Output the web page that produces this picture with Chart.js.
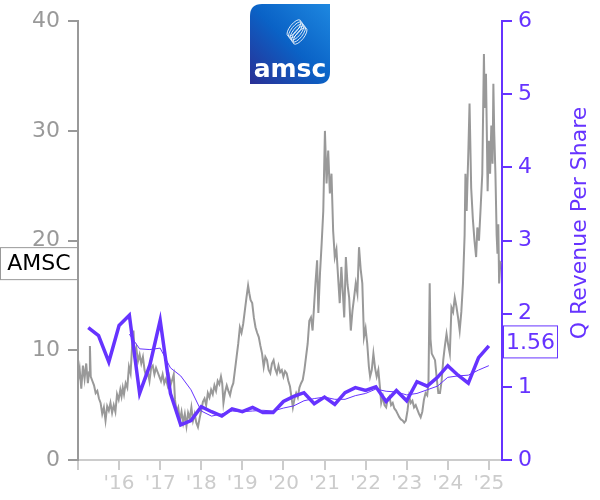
<!DOCTYPE html>
<html>
<head>
<meta charset="utf-8">
<script src="https://cdn.jsdelivr.net/npm/chart.js@4.4.0/dist/chart.umd.min.js"></script>
<style>
  body { margin: 0; background: #fff; }
</style>
</head>
<body>
<canvas id="chart" width="600" height="500"></canvas>
<script>
const ticker = 'AMSC';
const revTitle = 'Q Revenue Per Share';

const yearTicks = [2015, 2016, 2017, 2018, 2019, 2020, 2021, 2022, 2023, 2024, 2025];
const yearLabels = ['', "'16", "'17", "'18", "'19", "'20", "'21", "'22", "'23", "'24", "'25"];

// share price (left axis), decimal years
const priceDates = [
  2015.00, 2015.04, 2015.08, 2015.12, 2015.16, 2015.20, 2015.24, 2015.27, 2015.29, 2015.31,
  2015.35, 2015.39, 2015.43, 2015.47, 2015.51, 2015.55, 2015.59, 2015.63, 2015.67, 2015.71,
  2015.75, 2015.79, 2015.83, 2015.87, 2015.91, 2015.95, 2015.99, 2016.03, 2016.06, 2016.09,
  2016.12, 2016.16, 2016.20, 2016.24, 2016.28, 2016.32, 2016.35, 2016.38, 2016.42, 2016.46,
  2016.50, 2016.54, 2016.58, 2016.62, 2016.66, 2016.70, 2016.74, 2016.78, 2016.82, 2016.86,
  2016.90, 2016.94, 2016.98, 2017.02, 2017.06, 2017.10, 2017.14, 2017.18, 2017.22, 2017.26,
  2017.30, 2017.33, 2017.36, 2017.40, 2017.44, 2017.48, 2017.52, 2017.56, 2017.60, 2017.64,
  2017.68, 2017.72, 2017.76, 2017.80, 2017.84, 2017.88, 2017.92, 2017.96, 2018.00, 2018.04,
  2018.08, 2018.12, 2018.16, 2018.20, 2018.24, 2018.28, 2018.32, 2018.36, 2018.40, 2018.44,
  2018.48, 2018.51, 2018.54, 2018.58, 2018.62, 2018.66, 2018.70, 2018.74, 2018.78, 2018.82,
  2018.86, 2018.90, 2018.94, 2018.98, 2019.02, 2019.06, 2019.10, 2019.14, 2019.17, 2019.20,
  2019.24, 2019.28, 2019.32, 2019.36, 2019.40, 2019.44, 2019.48, 2019.52, 2019.56, 2019.60,
  2019.64, 2019.68, 2019.72, 2019.76, 2019.80, 2019.84, 2019.88, 2019.92, 2019.96, 2020.00,
  2020.04, 2020.08, 2020.12, 2020.16, 2020.20, 2020.23, 2020.27, 2020.31, 2020.35, 2020.39,
  2020.43, 2020.47, 2020.51, 2020.55, 2020.59, 2020.63, 2020.67, 2020.71, 2020.75, 2020.78,
  2020.82, 2020.85, 2020.89, 2020.93, 2020.97, 2021.01, 2021.05, 2021.09, 2021.13, 2021.17,
  2021.21, 2021.25, 2021.29, 2021.33, 2021.37, 2021.41, 2021.45, 2021.48, 2021.52, 2021.56,
  2021.60, 2021.64, 2021.68, 2021.72, 2021.76, 2021.80, 2021.84, 2021.88, 2021.92, 2021.96,
  2022.00, 2022.04, 2022.08, 2022.11, 2022.15, 2022.19, 2022.23, 2022.27, 2022.31, 2022.35,
  2022.38, 2022.42, 2022.46, 2022.50, 2022.54, 2022.58, 2022.62, 2022.66, 2022.70, 2022.74,
  2022.78, 2022.82, 2022.86, 2022.90, 2022.94, 2022.98, 2023.02, 2023.06, 2023.10, 2023.14,
  2023.18, 2023.22, 2023.26, 2023.30, 2023.34, 2023.38, 2023.42, 2023.46, 2023.50, 2023.53,
  2023.56, 2023.58, 2023.61, 2023.65, 2023.69, 2023.73, 2023.77, 2023.81, 2023.85, 2023.89,
  2023.93, 2023.97, 2024.01, 2024.05, 2024.09, 2024.13, 2024.17, 2024.21, 2024.25, 2024.29,
  2024.33, 2024.37, 2024.41, 2024.43, 2024.46, 2024.50, 2024.53, 2024.57, 2024.61, 2024.65,
  2024.69, 2024.72, 2024.76, 2024.80, 2024.84, 2024.88, 2024.90, 2024.93, 2024.95, 2024.97,
  2025.00, 2025.03, 2025.06, 2025.09, 2025.11, 2025.13, 2025.16, 2025.19, 2025.21, 2025.23,
  2025.25, 2025.28, 2025.30
];
const priceValues = [
  7.2, 8.3, 6.5, 8.6, 7.4, 8.8, 7.0, 8.0, 10.4, 7.6,
  7.2, 6.8, 6.1, 6.3, 5.6, 5.2, 4.2, 4.8, 3.6, 4.9,
  4.5, 5.2, 4.3, 5.0, 4.4, 6.0, 5.5, 6.4, 5.8, 6.6,
  6.0, 7.0, 6.6, 8.5, 7.9, 10.6, 11.8, 9.6, 10.2, 9.0,
  9.6, 8.8, 9.4, 8.2, 7.6, 8.0, 7.2, 8.4, 8.6, 7.8,
  8.4, 8.0, 7.6, 7.2, 7.8, 7.0, 7.4, 6.8, 7.6, 6.9,
  7.4, 7.8, 5.5, 4.4, 4.8, 3.6, 4.4, 3.4, 4.2, 3.1,
  4.3, 3.8, 4.8, 3.6, 4.2, 3.4, 3.0, 3.8, 4.5, 5.3,
  5.6, 5.0, 6.1, 5.7, 6.4, 6.0, 6.8, 6.3, 7.2, 6.9,
  7.6, 7.0, 5.2, 6.2, 6.8, 6.3, 5.9, 6.6, 7.0, 8.2,
  9.4, 10.6, 12.1, 11.6, 12.4, 13.6, 14.8, 15.9, 15.2, 14.6,
  14.3, 13.0, 12.1, 11.6, 11.2, 10.4, 9.7, 8.5, 9.4, 9.1,
  8.2, 7.9, 8.8, 9.1, 8.3, 7.9, 8.6, 8.0, 8.2, 7.6,
  8.1, 7.9, 7.2, 6.7, 5.6, 4.8, 5.6, 6.1, 5.7, 6.6,
  7.0, 7.3, 8.2, 9.4, 10.6, 12.7, 13.0, 11.8, 14.3, 16.1,
  18.2, 13.4, 17.0, 19.7, 22.7, 30.0, 25.2, 28.2, 24.3, 26.1,
  20.9, 18.5, 19.2, 16.7, 14.3, 17.6, 15.0, 13.0, 18.5, 16.0,
  14.8, 11.8, 13.6, 14.8, 16.1, 15.2, 19.4, 17.4, 16.1, 11.2,
  12.0, 10.6, 8.5, 7.6, 8.2, 9.7, 8.4, 7.6, 8.2, 6.6,
  5.2, 5.8, 5.0, 4.8, 5.6, 5.8, 5.0, 5.2, 4.7, 4.5,
  4.2, 3.9, 3.7, 3.6, 3.4, 3.6, 4.5, 5.8, 5.2, 5.4,
  4.8, 5.0, 4.6, 4.2, 3.9, 4.4, 5.5, 6.1, 5.9, 7.0,
  16.1, 11.0, 9.7, 9.4, 9.1, 7.5, 6.1, 6.1, 7.2, 9.1,
  10.4, 11.5, 10.5, 9.7, 13.9, 13.5, 14.8, 14.0, 13.0, 11.8,
  13.5, 16.1, 20.5, 26.1, 22.7, 28.0, 32.5, 24.8, 22.0, 20.0,
  18.5, 21.2, 20.0, 23.0, 26.1, 37.0, 32.1, 35.2, 30.0, 24.5,
  29.1, 26.1, 30.5, 27.0, 34.3, 30.0, 26.1, 20.5, 18.8, 21.5,
  16.1, 18.0, 17.9
];

// quarterly revenue per share (right axis)
const quarterDates = [
  2015.25, 2015.50, 2015.75, 2016.00, 2016.25, 2016.50, 2016.75, 2017.00,
  2017.25, 2017.50, 2017.75, 2018.00, 2018.25, 2018.50, 2018.75, 2019.00,
  2019.25, 2019.50, 2019.75, 2020.00, 2020.25, 2020.50, 2020.75, 2021.00,
  2021.25, 2021.50, 2021.75, 2022.00, 2022.25, 2022.50, 2022.75, 2023.00,
  2023.25, 2023.50, 2023.75, 2024.00, 2024.25, 2024.50, 2024.75, 2025.00
];
const revPerShare = [
  1.81, 1.70, 1.34, 1.84, 1.98, 0.91, 1.30, 1.91,
  0.91, 0.48, 0.54, 0.73, 0.66, 0.60, 0.70, 0.66,
  0.72, 0.65, 0.65, 0.80, 0.87, 0.92, 0.77, 0.86,
  0.76, 0.92, 0.99, 0.95, 1.00, 0.80, 0.95, 0.81,
  1.07, 1.01, 1.13, 1.29, 1.16, 1.05, 1.40, 1.56
];
// four-quarter average
const revAverage = [
  null, null, null, null, 1.72, 1.52, 1.51, 1.53,
  1.26, 1.15, 0.96, 0.67, 0.60, 0.63, 0.67, 0.66,
  0.67, 0.68, 0.67, 0.71, 0.74, 0.81, 0.84, 0.86,
  0.83, 0.83, 0.88, 0.91, 0.97, 0.94, 0.93, 0.89,
  0.91, 0.96, 1.01, 1.13, 1.15, 1.16, 1.23, 1.29
];

const grey = '#999999';
const purple = '#6633ff';
const font = 'DejaVu Sans';

function points(xs, ys) {
  return xs.map((x, i) => ({ x: x, y: ys[i] }));
}

// last-value boxes, right axis title and the logo
const overlay = {
  id: 'overlay',
  afterDraw(chart) {
    const ctx = chart.ctx;
    const yP = chart.scales.yPrice;
    const yR = chart.scales.yRev;
    ctx.save();
    ctx.font = '22px "' + font + '"';
    ctx.textBaseline = 'middle';

    const py = yP.getPixelForValue(priceValues[priceValues.length - 1]);
    ctx.fillStyle = '#fff';
    ctx.fillRect(0.5, py - 16, 77, 32);
    ctx.strokeStyle = grey;
    ctx.lineWidth = 1;
    ctx.strokeRect(0.5, py - 16, 77, 32);
    ctx.fillStyle = '#000';
    ctx.textAlign = 'center';
    ctx.fillText(ticker, 39, py + 1);

    const last = revPerShare[revPerShare.length - 1];
    const ry = yR.getPixelForValue(last) - 4;
    ctx.fillStyle = '#fff';
    ctx.fillRect(503.5, ry - 16, 54, 32);
    ctx.strokeStyle = purple;
    ctx.strokeRect(503.5, ry - 16, 54, 32);
    ctx.fillStyle = purple;
    ctx.fillText(last.toFixed(2), 530.5, ry + 1);

    // right axis title, reading bottom to top
    ctx.save();
    ctx.translate(580, 223);
    ctx.rotate(-Math.PI / 2);
    ctx.fillText(revTitle, 0, 0);
    ctx.restore();

    // logo
    const lx = 250, ly = 4, s = 80;
    const g = ctx.createLinearGradient(lx + s, ly, lx, ly + s);
    g.addColorStop(0, '#1e88e0');
    g.addColorStop(0.5, '#0a62c6');
    g.addColorStop(1, '#2a2f95');
    ctx.fillStyle = g;
    ctx.beginPath();
    ctx.moveTo(lx + 12, ly);
    ctx.lineTo(lx + s, ly);
    ctx.lineTo(lx + s, ly + s - 12);
    ctx.quadraticCurveTo(lx + s, ly + s, lx + s - 12, ly + s);
    ctx.lineTo(lx, ly + s);
    ctx.lineTo(lx, ly + 12);
    ctx.quadraticCurveTo(lx, ly, lx + 12, ly);
    ctx.fill();
    ctx.strokeStyle = 'rgba(255,255,255,0.85)';
    ctx.lineWidth = 1;
    for (let k = 0; k < 5; k++) {
      ctx.beginPath();
      ctx.ellipse(lx + 44 + k * 1.5, ly + 24 + k * 2, 10, 4, -0.9, 0, Math.PI * 2);
      ctx.stroke();
    }
    ctx.fillStyle = '#fff';
    ctx.font = 'bold 25px "' + font + '"';
    ctx.textAlign = 'center';
    ctx.fillText('amsc', lx + s / 2, ly + 66);
    ctx.restore();
  }
};

new Chart(document.getElementById('chart'), {
  type: 'line',
  data: {
    datasets: [
      {
        data: points(priceDates, priceValues),
        yAxisID: 'yPrice',
        borderColor: grey,
        borderWidth: 2,
        pointRadius: 0,
        tension: 0,
        order: 3
      },
      {
        data: points(quarterDates, revAverage),
        yAxisID: 'yRev',
        borderColor: purple,
        borderWidth: 1,
        pointRadius: 0,
        tension: 0,
        order: 2
      },
      {
        data: points(quarterDates, revPerShare),
        yAxisID: 'yRev',
        borderColor: purple,
        borderWidth: 3.5,
        pointRadius: 0,
        tension: 0,
        order: 1
      }
    ]
  },
  options: {
    responsive: false,
    animation: false,
    layout: { padding: { top: 20, left: 0, right: 0, bottom: 0 } },
    plugins: { legend: { display: false }, tooltip: { enabled: false } },
    scales: {
      x: {
        type: 'linear',
        min: 2015,
        max: 2025.32,
        afterBuildTicks: (scale) => { scale.ticks = yearTicks.map(v => ({ value: v })); },
        afterFit: (scale) => { scale.height = 40; },
        border: { color: '#cccccc', width: 2 },
        grid: { drawOnChartArea: false, color: '#cccccc', tickLength: 10, lineWidth: 2 },
        ticks: {
          color: '#cccccc',
          font: { family: font, size: 20 },
          padding: 2,
          maxRotation: 0,
          autoSkip: false,
          callback: (v) => yearLabels[yearTicks.indexOf(v)]
        }
      },
      yPrice: {
        position: 'left',
        min: 0,
        max: 40,
        afterFit: (scale) => { scale.width = 78; },
        border: { color: grey, width: 2 },
        grid: { drawOnChartArea: false, color: grey, tickLength: 10, lineWidth: 2 },
        ticks: { stepSize: 10, color: grey, font: { family: font, size: 22 }, padding: 8 }
      },
      yRev: {
        position: 'right',
        min: 0,
        max: 6,
        afterFit: (scale) => { scale.width = 98; },
        border: { color: purple, width: 2 },
        grid: { drawOnChartArea: false, color: purple, tickLength: 10, lineWidth: 2 },
        ticks: { stepSize: 1, color: purple, font: { family: font, size: 22 }, padding: 6 }
      }
    }
  },
  plugins: [overlay]
});
</script>
</body>
</html>
